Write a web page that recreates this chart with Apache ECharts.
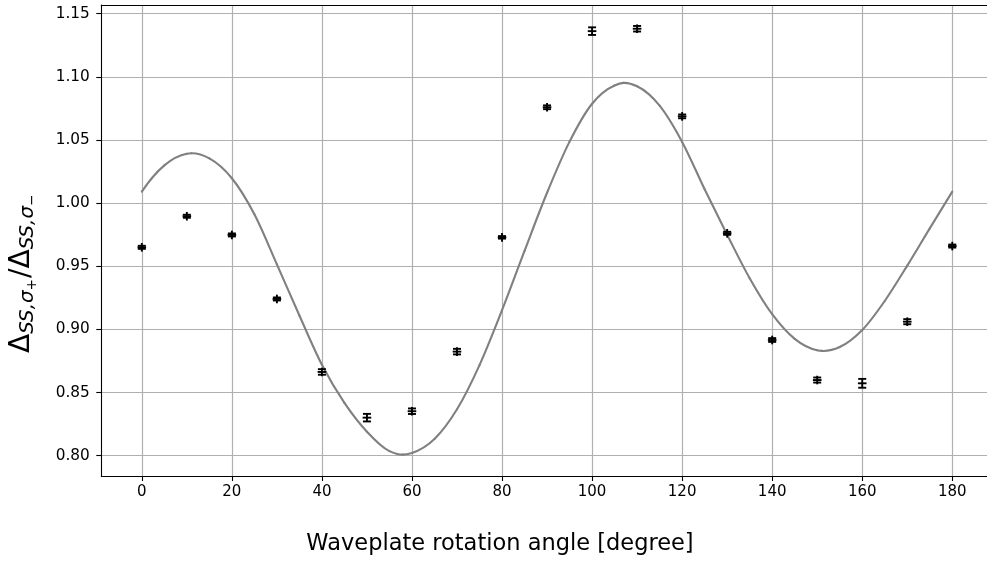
<!DOCTYPE html>
<html>
<head>
<meta charset="utf-8">
<script src="https://cdn.jsdelivr.net/npm/echarts@6/dist/echarts.min.js"></script>
<style>
  html, body { margin: 0; padding: 0; background: #ffffff; }
  #chart { width: 987px; height: 561px; }
</style>
</head>
<body>
<div id="chart"></div>
<script>
// Measured gap ratio at each waveplate angle (degrees)
const angles = [0, 10, 20, 30, 40, 50, 60, 70, 80, 90, 100, 110, 120, 130, 140, 150, 160, 170, 180];
const ratios = [0.9650, 0.9896, 0.9748, 0.9241, 0.8663, 0.8301, 0.8352, 0.8824, 0.9729, 1.0759,
                1.1362, 1.1381, 1.0687, 0.9761, 0.8916, 0.8599, 0.8573, 0.9061, 0.9660];
const ratioErrors = [0.0012, 0.0012, 0.0012, 0.0012, 0.0022, 0.0030, 0.0022, 0.0022, 0.0010, 0.0015,
                     0.0030, 0.0022, 0.0015, 0.0012, 0.0015, 0.0020, 0.0035, 0.0020, 0.0012];

// Fitted model curve, sampled every 5 degrees plus its turning points
const fitAngles = [0, 5, 10, 11, 15, 20, 25, 30, 35, 40, 45, 50, 55, 58, 60, 65, 70, 75, 80, 85, 90,
                   95, 100, 105, 107, 110, 115, 120, 125, 130, 135, 140, 145, 150, 151, 155, 160,
                   165, 170, 175, 180];
const fitValues = [1.0091, 1.0299, 1.0391, 1.0395, 1.0354, 1.0197, 0.9912, 0.9515, 0.9110, 0.8720,
                   0.8418, 0.8190, 0.8036, 0.8008, 0.8022, 0.8132, 0.8367, 0.8717, 0.9152, 0.9622,
                   1.0082, 1.0487, 1.0787, 1.0932, 1.0952, 1.0925, 1.0772, 1.0485, 1.0110, 0.9750,
                   0.9405, 0.9120, 0.8925, 0.8835, 0.8830, 0.8860, 0.8995, 0.9225, 0.9505, 0.9800,
                   1.0091];

// Axis tick positions
const xTicks = [0, 20, 40, 60, 80, 100, 120, 140, 160, 180];
const yTicks = [0.80, 0.85, 0.90, 0.95, 1.00, 1.05, 1.10, 1.15];

const FONT = '"DejaVu Sans", "Liberation Sans", sans-serif';
const GRID_COLOR = '#b0b0b0';

const errorData = angles.map((a, i) => [a, ratios[i], ratioErrors[i]]);
const fitData = fitAngles.map((a, i) => [a, fitValues[i]]);

// Slope of the fit curve at sample i (three-point estimate on an uneven grid)
function fitSlope(i) {
  const n = fitAngles.length;
  const sec = k => (fitValues[k + 1] - fitValues[k]) / (fitAngles[k + 1] - fitAngles[k]);
  const step = k => fitAngles[k + 1] - fitAngles[k];
  if (i === 0) {
    const h0 = step(0), h1 = step(1);
    return ((2 * h0 + h1) * sec(0) - h0 * sec(1)) / (h0 + h1);
  }
  if (i === n - 1) {
    const h0 = step(n - 2), h1 = step(n - 3);
    return ((2 * h0 + h1) * sec(n - 2) - h0 * sec(n - 3)) / (h0 + h1);
  }
  const hp = step(i - 1), hn = step(i);
  return (hp * sec(i) + hn * sec(i - 1)) / (hp + hn);
}

// One cubic Hermite segment of the fit curve between sample i and i + 1
function renderFitSegment(params, api) {
  const i = params.dataIndex;
  if (i >= fitAngles.length - 1) return null;
  const x0 = fitAngles[i], y0 = fitValues[i];
  const x1 = fitAngles[i + 1], y1 = fitValues[i + 1];
  const h = (x1 - x0) / 3;
  const p0 = api.coord([x0, y0]);
  const p1 = api.coord([x1, y1]);
  const c0 = api.coord([x0 + h, y0 + fitSlope(i) * h]);
  const c1 = api.coord([x1 - h, y1 - fitSlope(i + 1) * h]);
  return {
    type: 'bezierCurve',
    shape: { x1: p0[0], y1: p0[1], x2: p1[0], y2: p1[1],
             cpx1: c0[0], cpy1: c0[1], cpx2: c1[0], cpy2: c1[1] },
    style: { stroke: '#808080', lineWidth: 2.1, fill: null, lineCap: 'round' }
  };
}

function renderErrorBar(params, api) {
  const x = api.value(0), y = api.value(1), e = api.value(2);
  const c = api.coord([x, y]);
  const hi = api.coord([x, y + e]);
  const lo = api.coord([x, y - e]);
  const cap = 4, arm = 4.3;
  const style = { stroke: '#000000', lineWidth: 1.9 };
  const top = Math.min(hi[1], c[1] - arm);
  const bottom = Math.max(lo[1], c[1] + arm);
  return {
    type: 'group',
    children: [
      { type: 'line', shape: { x1: c[0], y1: top, x2: c[0], y2: bottom }, style },
      { type: 'line', shape: { x1: c[0] - cap, y1: hi[1], x2: c[0] + cap, y2: hi[1] }, style },
      { type: 'line', shape: { x1: c[0] - cap, y1: lo[1], x2: c[0] + cap, y2: lo[1] }, style },
      { type: 'line', shape: { x1: c[0] - arm, y1: c[1], x2: c[0] + arm, y2: c[1] }, style }
    ]
  };
}

// Y axis title built from pieces so the subscripts can be lowered
const measureCtx = document.createElement('canvas').getContext('2d');
function textWidth(str, size, italic) {
  measureCtx.font = (italic ? 'italic ' : '') + size + 'px ' + FONT;
  return measureCtx.measureText(str).width;
}
const BASE = 28.2, SUB = BASE * 0.7, SUB2 = BASE * 0.49;
const yTitleParts = [
  { t: 'Δ', s: BASE, i: false, d: 0 },
  { t: 'SS,σ', s: SUB, i: true, d: 4 },
  { t: '+', s: SUB2, i: false, d: 7 },
  { t: '/', s: BASE, i: false, d: 0 },
  { t: 'Δ', s: BASE, i: false, d: 0 },
  { t: 'SS,σ', s: SUB, i: true, d: 4 },
  { t: '−', s: SUB2, i: false, d: 7 }
];
let cursor = 0;
const yTitleChildren = yTitleParts.map(p => {
  const el = {
    type: 'text',
    x: cursor,
    y: p.d - 0.3 * p.s,
    style: {
      text: p.t,
      fontSize: p.s,
      fontFamily: FONT,
      fontStyle: p.i ? 'italic' : 'normal',
      fill: '#000000',
      align: 'left',
      verticalAlign: 'middle'
    }
  };
  cursor += textWidth(p.t, p.s, p.i) + (p.s === SUB2 ? 1 : 0);
  return el;
});

const chart = echarts.init(document.getElementById('chart'), null, { renderer: 'canvas' });

chart.setOption({
  animation: false,
  backgroundColor: '#ffffff',
  grid: { left: 101.3, top: 5, width: 891.5, height: 471, containLabel: false, outerBoundsMode: 'none' },
  xAxis: [
    {
      type: 'value',
      min: -9,
      max: 189,
      splitNumber: 10,
      axisLine: { show: true, onZero: false, lineStyle: { color: '#000000', width: 1.1 } },
      axisTick: { show: true, inside: false, length: 5, customValues: xTicks,
                  lineStyle: { color: '#000000', width: 1.1 } },
      axisLabel: { show: true, customValues: xTicks, margin: 9, color: '#000000',
                   fontSize: 15, fontFamily: FONT },
      splitLine: { show: true, lineStyle: { color: GRID_COLOR, width: 1.2 } }
    },
    {
      type: 'value',
      position: 'top',
      min: -9,
      max: 189,
      axisLine: { show: true, onZero: false, lineStyle: { color: '#000000', width: 1.1 } },
      axisTick: { show: false },
      axisLabel: { show: false },
      splitLine: { show: false }
    }
  ],
  yAxis: {
    type: 'value',
    min: 0.7839,
    max: 1.1569,
    splitNumber: 7,
    axisLine: { show: true, onZero: false, lineStyle: { color: '#000000', width: 1.1 } },
    axisTick: { show: true, inside: false, length: 5, customValues: yTicks,
                lineStyle: { color: '#000000', width: 1.1 } },
    axisLabel: { show: true, customValues: yTicks, margin: 11.5, color: '#000000',
                 fontSize: 15.3, fontFamily: FONT, formatter: v => v.toFixed(2) },
    splitLine: { show: true, lineStyle: { color: GRID_COLOR, width: 1.2 } }
  },
  series: [
    {
      type: 'custom',
      name: 'fit',
      xAxisIndex: 0,
      data: fitData,
      encode: { x: 0, y: 1 },
      renderItem: renderFitSegment,
      z: 2
    },
    {
      type: 'custom',
      name: 'measured',
      xAxisIndex: 0,
      data: errorData,
      encode: { x: 0, y: 1 },
      renderItem: renderErrorBar,
      z: 3
    }
  ],
  graphic: [
    {
      type: 'text',
      x: 500,
      y: 544,
      style: {
        text: 'Waveplate rotation angle [degree]',
        fontSize: 22.5,
        fontFamily: FONT,
        fill: '#000000',
        align: 'center',
        verticalAlign: 'middle'
      }
    },
    {
      type: 'group',
      x: 30,
      y: 353,
      rotation: Math.PI / 2,
      children: yTitleChildren
    }
  ]
});
</script>
</body>
</html>
